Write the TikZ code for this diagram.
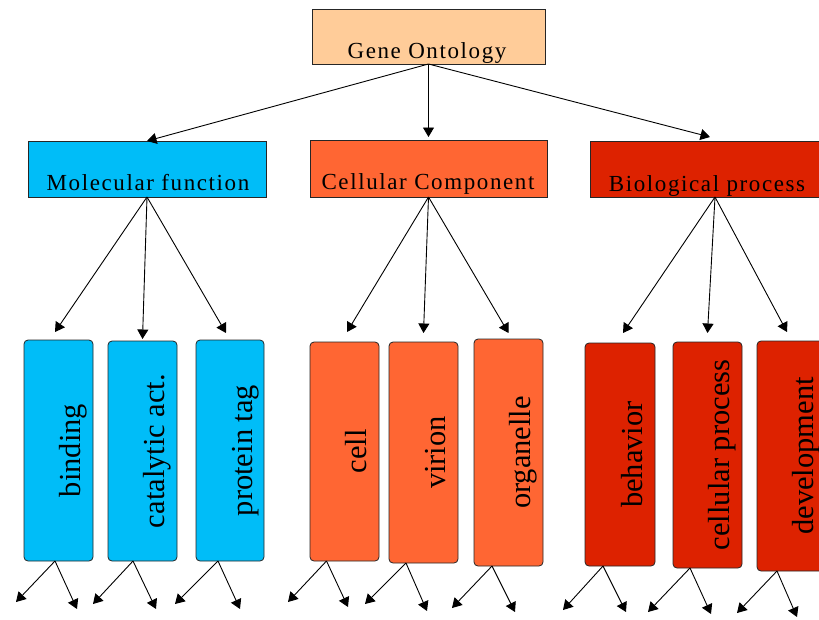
\documentclass[tikz,border=0pt]{standalone}
\usepackage{fontspec}
\setmainfont{Liberation Serif}
\newfontfamily\catfont[LetterSpace=7]{Liberation Serif}
\usetikzlibrary{arrows.meta}
\definecolor{goPeach}{HTML}{FFCC99}
\definecolor{mfBlue}{HTML}{00BDF8}
\definecolor{ccOrange}{HTML}{FF6633}
\definecolor{bpRed}{HTML}{DD2200}
\begin{document}
\begin{tikzpicture}[x=1pt,y=-1pt,
 catbox/.style={draw=black!85, line width=0.8pt, inner sep=0pt, outer sep=0pt},
 leafbox/.style={draw=black!85, line width=0.8pt, rounded corners=4pt, inner sep=0pt, outer sep=0pt, minimum width=69pt},
 cattext/.style={anchor=base, inner sep=0pt, font=\catfont\fontsize{23}{27}\selectfont},
 leaftext/.style={rotate=90, inner sep=0pt, text height=21pt, text depth=7pt, font=\fontsize{30.5}{34}\selectfont},
 link/.style={line width=0.9pt, -{Triangle[length=9.5pt,width=11pt]}}
]
\useasboundingbox (0,0) rectangle (819,619);
\clip (0,0) rectangle (819,619);

% category boxes
\node[catbox, fill=goPeach, minimum width=233pt, minimum height=55pt] (GO) at (428.5,36.5) {};
\node[catbox, fill=mfBlue, minimum width=238pt, minimum height=56pt] (MF) at (147,169) {};
\node[catbox, fill=ccOrange, minimum width=237pt, minimum height=57pt] (CC) at (428.5,168.5) {};
\node[catbox, fill=bpRed, minimum width=232pt, minimum height=56pt] (BP) at (706,169) {};

\node[cattext] (GOt) at (427,58) {Gene Ontology};
\node[cattext] (MFt) at (148,190.5) {Molecular function};
\node[cattext] (CCt) at (428,189) {Cellular Component};
\node[cattext] (BPt) at (707,191) {Biological process};

% leaf boxes
\node[leafbox, fill=mfBlue, minimum height=221pt] (binding) at (58.5,450.5) {};
\node[leafbox, fill=mfBlue, minimum height=220pt] (catalytic) at (142.5,451) {};
\node[leafbox, fill=mfBlue, minimum width=68pt, minimum height=221pt] (protein) at (230,450.5) {};
\node[leafbox, fill=ccOrange, minimum height=219pt] (cell) at (344.5,451.5) {};
\node[leafbox, fill=ccOrange, minimum height=221pt] (virion) at (423.5,452.5) {};
\node[leafbox, fill=ccOrange, minimum height=227pt] (organelle) at (508.5,452.5) {};
\node[leafbox, fill=bpRed, minimum width=70pt, minimum height=223pt] (behavior) at (620,454.5) {};
\node[leafbox, fill=bpRed, minimum height=226pt] (cellproc) at (707.5,455) {};
\node[leafbox, fill=bpRed, minimum height=230pt] (development) at (791.5,456) {};

\node[leaftext] (bindingt) at ([xshift=15pt]binding.center) {binding};
\node[leaftext] (catalytict) at ([xshift=15pt]catalytic.center) {catalytic act.};
\node[leaftext] (proteint) at ([xshift=15pt]protein.center) {protein tag};
\node[leaftext] (cellt) at ([xshift=15pt]cell.center) {cell};
\node[leaftext] (viriont) at ([xshift=15pt]virion.center) {virion};
\node[leaftext] (organellet) at ([xshift=15pt]organelle.center) {organelle};
\node[leaftext] (behaviort) at ([xshift=15pt]behavior.center) {behavior};
\node[leaftext] (cellproct) at ([xshift=15pt]cellproc.center) {cellular process};
\node[leaftext] (developmentt) at ([xshift=15pt]development.center) {development};

% top level links
\draw[link] (GO.south) -- (MF.north);
\draw[link] (GO.south) -- ([yshift=3pt]CC.north);
\draw[link] (GO.south) -- ([xshift=4pt,yshift=4pt]BP.north);

% second level links
\draw[link] (MF.south) -- ([xshift=-3.5pt,yshift=8pt]binding.north);
\draw[link] (MF.south) -- ([yshift=2pt]catalytic.north);
\draw[link] (MF.south) -- ([xshift=-4pt,yshift=7pt]protein.north);
\draw[link] (CC.south) -- ([xshift=2.5pt,yshift=10pt]cell.north);
\draw[link] (CC.south) -- ([yshift=9pt]virion.north);
\draw[link] (CC.south) -- ([yshift=6pt]organelle.north);
\coordinate (BPo) at ([xshift=9pt]BP.south);
\draw[link] (BPo) -- ([xshift=3pt,yshift=10pt]behavior.north);
\draw[link] (BPo) -- ([yshift=9pt]cellproc.north);
\draw[link] (BPo) -- ([xshift=-4.5pt,yshift=9pt]development.north);

% bottom links (free ends)
\coordinate (bindingO) at ([xshift=-3.5pt]binding.south);
\coordinate (catalyticO) at ([xshift=-9.5pt]catalytic.south);
\coordinate (proteinO) at ([xshift=-12pt]protein.south);
\coordinate (cellO) at ([xshift=-18pt]cell.south);
\coordinate (virionO) at ([xshift=-17.5pt]virion.south);
\coordinate (organelleO) at ([xshift=-16.5pt]organelle.south);
\coordinate (behaviorO) at ([xshift=-17pt]behavior.south);
\coordinate (cellprocO) at ([xshift=-17.5pt]cellproc.south);
\coordinate (developmentO) at ([xshift=-14.5pt]development.south);

\coordinate (bL) at (16,602);   \coordinate (bR) at (77,609);
\coordinate (cL) at (93,604);   \coordinate (cR) at (156,609);
\coordinate (pL) at (175,604);  \coordinate (pR) at (240,609);
\coordinate (eL) at (288,602);  \coordinate (eR) at (348,607);
\coordinate (vL) at (365,604);  \coordinate (vR) at (427,611);
\coordinate (oL) at (452,608);  \coordinate (oR) at (515,612);
\coordinate (hL) at (563,610);  \coordinate (hR) at (626,612);
\coordinate (sL) at (648,612);  \coordinate (sR) at (711,614);
\coordinate (dL) at (737,613);  \coordinate (dR) at (797,617);

\draw[link] (bindingO) -- (bL);  \draw[link] (bindingO) -- (bR);
\draw[link] (catalyticO) -- (cL); \draw[link] (catalyticO) -- (cR);
\draw[link] (proteinO) -- (pL);  \draw[link] (proteinO) -- (pR);
\draw[link] (cellO) -- (eL);     \draw[link] (cellO) -- (eR);
\draw[link] (virionO) -- (vL);   \draw[link] (virionO) -- (vR);
\draw[link] (organelleO) -- (oL); \draw[link] (organelleO) -- (oR);
\draw[link] (behaviorO) -- (hL); \draw[link] (behaviorO) -- (hR);
\draw[link] (cellprocO) -- (sL); \draw[link] (cellprocO) -- (sR);
\draw[link] (developmentO) -- (dL); \draw[link] (developmentO) -- (dR);
\end{tikzpicture}
\end{document}
